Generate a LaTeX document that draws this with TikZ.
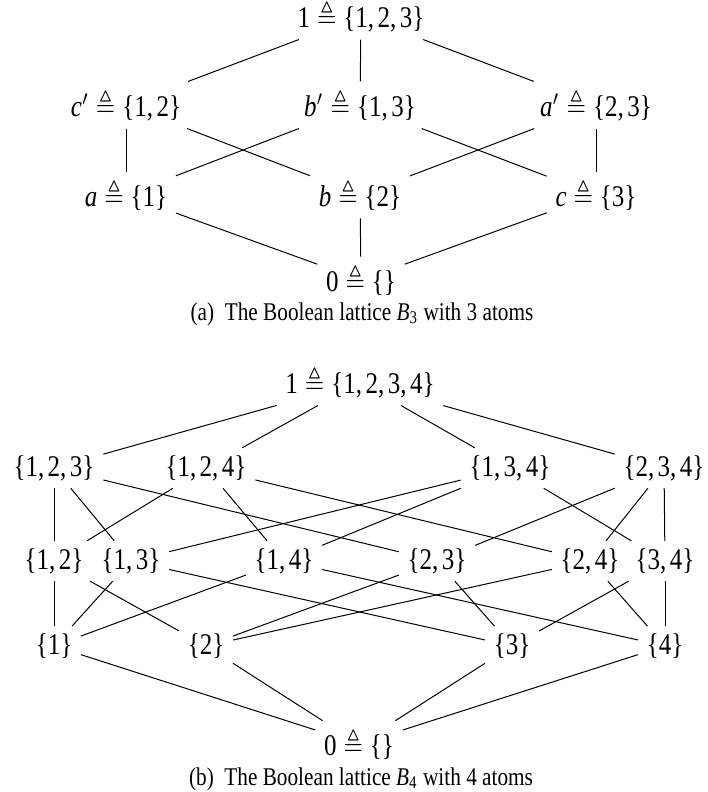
\documentclass[tikz,border=0pt]{standalone}
\usepackage{amsmath}
\usepackage{amssymb}
\usepackage{fontspec}
\setmainfont{Liberation Serif}
\newcommand{\tq}{\ensuremath{{}\triangleq{}}}
\newcommand{\st}[1]{\{#1\}}
\newcommand{\cm}{,\kern0.14em}
\newcommand{\pr}[1]{\textit{#1}\ensuremath{'}}
\newcommand{\V}[1]{\scalebox{1}[1.2]{#1}}
\begin{document}
\begin{tikzpicture}[x=0.4pt,y=-0.4pt,
  lat/.style={inner xsep=3.333pt, inner ysep=2.8pt, font=\fontsize{10}{12}\selectfont},
  capt/.style={inner sep=0pt, font=\fontsize{8.5}{10}\selectfont},
  edge/.style={draw, line width=0.4pt}]
\useasboundingbox (0,0) rectangle (707,792);
% ---------- (a) B_3 ----------
\node[lat] (t3) at (361,16) {\V{1\tq\st{1\cm 2\cm 3}}};
\node[lat] (cp) at (126,105) {\V{\pr{c}\tq\st{1\cm 2}}};
\node[lat] (bp) at (360,105) {\V{\pr{b}\tq\st{1\cm 3}}};
\node[lat] (ap) at (596,105) {\V{\pr{a}\tq\st{2\cm 3}}};
\node[lat] (a) at (126,195) {\V{\textit{a}\tq\st{1}}};
\node[lat] (b) at (360,195) {\V{\textit{b}\tq\st{2}}};
\node[lat] (c) at (596,195) {\V{\textit{c}\tq\st{3}}};
\node[lat] (z3) at (361,280) {\V{0\tq\st{}}};
\node[capt] (capa) at (362,314) {\V{(a)\enspace The Boolean lattice \textit{B}$_{\text{3}}$ with 3 atoms}};
\foreach \u/\v in {t3/cp,t3/bp,t3/ap,cp/a,cp/b,bp/a,bp/c,ap/b,ap/c,a/z3,b/z3,c/z3}
  \draw[edge] (\u) -- (\v);
% ---------- (b) B_4 ----------
\node[lat] (t4) at (360,382) {\V{1\tq\st{1\cm 2\cm 3\cm 4}}};
\node[lat] (n123) at (54,468) {\V{\st{1\cm 2\cm 3}}};
\node[lat] (n124) at (206,468) {\V{\st{1\cm 2\cm 4}}};
\node[lat] (n134) at (510,468) {\V{\st{1\cm 3\cm 4}}};
\node[lat] (n234) at (664,468) {\V{\st{2\cm 3\cm 4}}};
\node[lat] (n12) at (54,561) {\V{\st{1\cm 2}}};
\node[lat] (n13) at (131,561) {\V{\st{1\cm 3}}};
\node[lat] (n14) at (284,561) {\V{\st{1\cm 4}}};
\node[lat] (n23) at (437,561) {\V{\st{2\cm 3}}};
\node[lat] (n24) at (590,561) {\V{\st{2\cm 4}}};
\node[lat] (n34) at (665,561) {\V{\st{3\cm 4}}};
\node[lat] (n1) at (54,646) {\V{\st{1}}};
\node[lat] (n2) at (206,646) {\V{\st{2}}};
\node[lat] (n3) at (512,646) {\V{\st{3}}};
\node[lat] (n4) at (665,646) {\V{\st{4}}};
\node[lat] (z4) at (359,744) {\V{0\tq\st{}}};
\node[capt] (capb) at (361,779) {\V{(b)\enspace The Boolean lattice \textit{B}$_{\text{4}}$ with 4 atoms}};
\foreach \u/\v in {t4/n123,t4/n124,t4/n134,t4/n234,
  n123/n12,n123/n13,n123/n23,n124/n12,n124/n14,n124/n24,
  n134/n13,n134/n14,n134/n34,n234/n23,n234/n24,n234/n34,
  n12/n1,n12/n2,n13/n1,n13/n3,n14/n1,n14/n4,
  n23/n2,n23/n3,n24/n2,n24/n4,n34/n3,n34/n4,
  n1/z4,n2/z4,n3/z4,n4/z4}
  \draw[edge] (\u) -- (\v);
\end{tikzpicture}
\end{document}
